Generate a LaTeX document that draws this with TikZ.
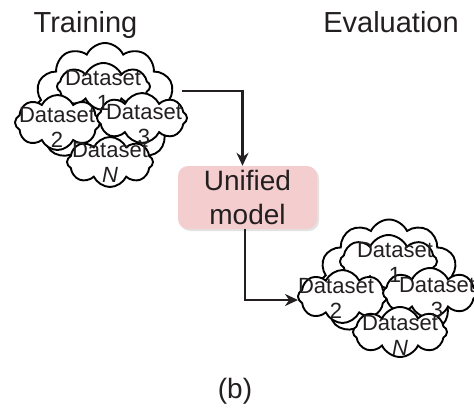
\documentclass[tikz,border=0pt]{standalone}
\usepackage{fontspec}
\setmainfont{Liberation Sans}
\usetikzlibrary{shapes.symbols,arrows.meta,shadows}
\definecolor{inkgray}{RGB}{35,31,32}
\definecolor{modelpink}{RGB}{244,205,207}
\tikzset{
  dscloud/.style={cloud, cloud puffs=8, cloud puff arc=130, cloud ignores aspect, draw=black, line width=1.9pt, fill=white, inner sep=0pt},
  dstext/.style={align=center, inner sep=0pt, text=inkgray, font=\fontsize{22}{25}\selectfont},
  flow/.style={draw=inkgray, line width=2.2pt, -{Stealth[length=13pt,width=12pt]}},
}
\begin{document}
\begin{tikzpicture}[x=1pt, y=-1pt]
            \useasboundingbox (0,0) rectangle (474,410);
            % Titles
            \node[anchor=base, text=inkgray, font=\fontsize{29}{34}\selectfont] (train) at (85.5,32) {Training};
            \node[anchor=base, text=inkgray, font=\fontsize{29}{34}\selectfont] (eval) at (391,32) {Evaluation};
            
            % Training datasets
            \node[dscloud, cloud puffs=11, minimum width=144pt, minimum height=130pt] (Lbg) at (105,108) {};
            \node[dscloud, minimum width=93pt, minimum height=47pt] (L1) at (103.5,86.5) {};
            \node[dscloud, minimum width=85pt, minimum height=55pt] (L2) at (57.5,122.5) {};
            \node[dscloud, minimum width=90pt, minimum height=50pt] (L3) at (142,118) {};
            \node[dscloud, minimum width=86pt, minimum height=50pt] (LN) at (110,162) {};
            \node[dstext] (L1t) at (103,90) {Dataset\\1};
            \node[dstext] (L2t) at (57,127) {Dataset\\2};
            \node[dstext] (L3t) at (144,125) {Dataset\\3};
            \node[dstext] (LNt) at (110,162) {Dataset\\\textit{N}};
            
            % Evaluation datasets
            \node[dscloud, cloud puffs=11, minimum width=142pt, minimum height=127pt] (Rbg) at (389,283) {};
            \node[dscloud, minimum width=97pt, minimum height=53pt] (R1) at (388.5,261.5) {};
            \node[dscloud, minimum width=89pt, minimum height=53pt] (R2) at (342.5,296.5) {};
            \node[dscloud, minimum width=94pt, minimum height=50pt] (R3) at (430,293) {};
            \node[dscloud, minimum width=94pt, minimum height=50pt] (RN) at (400,332) {};
            \node[dstext] (R1t) at (395,262) {Dataset\\1};
            \node[dstext] (R2t) at (336,298) {Dataset\\2};
            \node[dstext] (R3t) at (437,298) {Dataset\\3};
            \node[dstext] (RNt) at (400,335) {Dataset\\\textit{N}};
            
            % Model
            \node[rounded corners=10pt, fill=modelpink, drop shadow={shadow xshift=2pt, shadow yshift=-2pt, fill=black!22},
                  minimum width=139pt, minimum height=63pt, align=center, text=inkgray,
                  font=\fontsize{28}{34}\selectfont] (model) at (247.5,197.5) {Unified\\model};
            
            % Connectors
            \coordinate (Lout) at (182,91);
            \coordinate (Rin) at (298,300);
            \draw[flow] (Lout) -| ([xshift=-5pt]model.north);
            \draw[flow] ([xshift=-2.5pt]model.south) |- (Rin);
            
            % Caption
            \node[anchor=base, text=inkgray, font=\fontsize{28}{34}\selectfont] (cap) at (235,398) {(b)};
        \end{tikzpicture}
\end{document}
